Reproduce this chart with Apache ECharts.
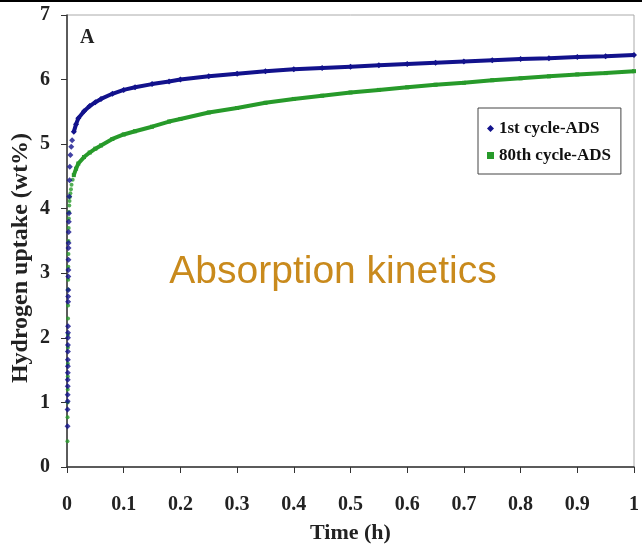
<!DOCTYPE html>
<html>
<head>
<meta charset="utf-8">
<script src="https://cdn.jsdelivr.net/npm/echarts@6/dist/echarts.min.js"></script>
<style>html,body{margin:0;padding:0;background:#fff}#c{width:642px;height:550px}</style>
</head>
<body>
<div id="c"></div>
<script>
// ---- data ----
const xTicks = [0, 0.1, 0.2, 0.3, 0.4, 0.5, 0.6, 0.7, 0.8, 0.9, 1];
const yTicks = [0, 1, 2, 3, 4, 5, 6, 7];
const seriesNames = ['1st cycle-ADS', '80th cycle-ADS'];

// initial rise (scattered points near t = 0)
const blueEarlyT = [0.001,0.001,0.0012,0.0012,0.0013,0.0013,0.0014,0.0015,0.0015,0.0016,0.0017,0.0018,0.0018,0.0019,0.002,0.0021,0.0022,0.0023,0.0024,0.0025,0.0027,0.0028,0.003,0.0032,0.0035,0.004,0.0045,0.005,0.006,0.0075,0.009];
const blueEarlyY = [0.63,0.89,1.02,1.12,1.25,1.35,1.46,1.56,1.66,1.79,1.89,2.0,2.08,2.18,2.56,2.64,2.74,2.95,3.05,3.21,3.39,3.47,3.64,3.8,3.93,4.19,4.44,4.65,4.83,4.96,5.06];
const greenEarlyT = [0.0008,0.001,0.0012,0.0013,0.0014,0.0015,0.0016,0.0017,0.0018,0.0019,0.002,0.0022,0.0024,0.0026,0.0028,0.003,0.0033,0.0036,0.004,0.0045,0.005,0.006,0.007,0.008,0.01];
const greenEarlyY = [0.4,0.77,1.0,1.2,1.4,1.6,1.85,2.05,2.3,2.5,2.75,2.9,3.1,3.3,3.5,3.7,3.85,3.95,4.05,4.12,4.18,4.24,4.3,4.37,4.45];

// main curves
const mainT = [0.012,0.016,0.02,0.03,0.04,0.05,0.06,0.08,0.1,0.12,0.15,0.18,0.2,0.25,0.3,0.35,0.4,0.45,0.5,0.55,0.6,0.65,0.7,0.75,0.8,0.85,0.9,0.95,1.0];
const blueY  = [5.19,5.31,5.40,5.51,5.59,5.65,5.70,5.78,5.84,5.88,5.93,5.97,6.00,6.05,6.09,6.13,6.16,6.18,6.20,6.22,6.24,6.26,6.28,6.30,6.32,6.33,6.35,6.36,6.38];
const greenY = [4.52,4.62,4.70,4.80,4.87,4.93,4.98,5.08,5.15,5.20,5.27,5.35,5.39,5.49,5.56,5.64,5.70,5.75,5.80,5.84,5.88,5.92,5.95,5.99,6.02,6.05,6.08,6.10,6.13];

const zip = (a, b) => a.map((v, i) => [v, b[i]]);

const BLUE = '#12128c';
const GREEN = '#279a2a';
const serif = '"Liberation Serif", "DejaVu Serif", serif';

const chart = echarts.init(document.getElementById('c'), null, {renderer: 'canvas'});
chart.setOption({
  animation: false,
  backgroundColor: '#fff',
  grid: {left: 67, right: 7, top: 15, bottom: 83, show: true, borderColor: '#aaaaaa', borderWidth: 1},
  xAxis: {
    type: 'value', min: xTicks[0], max: xTicks[xTicks.length - 1], interval: 0.1,
    name: 'Time (h)', nameLocation: 'middle', nameGap: 55,
    nameTextStyle: {fontFamily: serif, fontWeight: 'bold', fontSize: 22, color: '#222'},
    axisLine: {lineStyle: {color: '#333', width: 1.5}},
    axisTick: {show: true, inside: false, length: 6, lineStyle: {color: '#333'}},
    axisLabel: {margin: 28, fontFamily: serif, fontWeight: 'bold', fontSize: 20, color: '#222',
      formatter: v => String(+v.toFixed(1))},
    splitLine: {show: false}
  },
  yAxis: {
    type: 'value', min: yTicks[0], max: yTicks[yTicks.length - 1], interval: 1,
    axisLine: {show: true, lineStyle: {color: '#333', width: 1.5}},
    axisTick: {show: true, inside: false, length: 6, lineStyle: {color: '#333'}},
    axisLabel: {margin: 17, fontFamily: serif, fontWeight: 'bold', fontSize: 20, color: '#222'},
    splitLine: {show: false}
  },
  legend: {
    orient: 'vertical', left: 478, top: 108,
    backgroundColor: '#fff', borderColor: '#444', borderWidth: 1,
    padding: [12, 10, 10, 9], itemGap: 10, itemWidth: 7, itemHeight: 7,
    textStyle: {fontFamily: serif, fontWeight: 'bold', fontSize: 17, color: '#111'},
    data: [{name: seriesNames[0], icon: 'diamond'}, {name: seriesNames[1], icon: 'rect'}]
  },
  series: [
    {name: seriesNames[1], type: 'line', data: zip(mainT, greenY), color: GREEN,
      lineStyle: {width: 4, color: GREEN}, symbol: 'rect', symbolSize: 4, showSymbol: true,
      itemStyle: {color: GREEN}, z: 2},
    {name: seriesNames[1], type: 'scatter', data: zip(greenEarlyT, greenEarlyY), color: GREEN,
      symbol: 'circle', symbolSize: 4, itemStyle: {color: GREEN}, z: 3},
    {name: seriesNames[0], type: 'line', data: zip(mainT, blueY), color: BLUE,
      lineStyle: {width: 4, color: BLUE}, symbol: 'diamond', symbolSize: 6, showSymbol: true,
      itemStyle: {color: BLUE}, z: 2},
    {name: seriesNames[0], type: 'scatter', data: zip(blueEarlyT, blueEarlyY), color: BLUE,
      symbol: 'diamond', symbolSize: 6, itemStyle: {color: BLUE}, z: 3}
  ],
  graphic: [
    {type: 'rect', left: 0, top: 0, shape: {width: 642, height: 2}, style: {fill: '#000'}},
    {type: 'text', x: 21, y: 258, rotation: Math.PI / 2,
      style: {text: 'Hydrogen uptake (wt%)', font: 'bold 24px ' + serif, fill: '#222',
        textAlign: 'center', textVerticalAlign: 'middle'}},
    {type: 'text', x: 80, y: 38,
      style: {text: 'A', font: 'bold 20px ' + serif, fill: '#222', textAlign: 'left', textVerticalAlign: 'middle'}},
    {type: 'text', x: 333, y: 272,
      style: {text: 'Absorption kinetics', font: '39px "Liberation Sans", Arial, sans-serif', fill: '#c98a1c',
        textAlign: 'center', textVerticalAlign: 'middle'}}
  ]
});
</script>
</body>
</html>
